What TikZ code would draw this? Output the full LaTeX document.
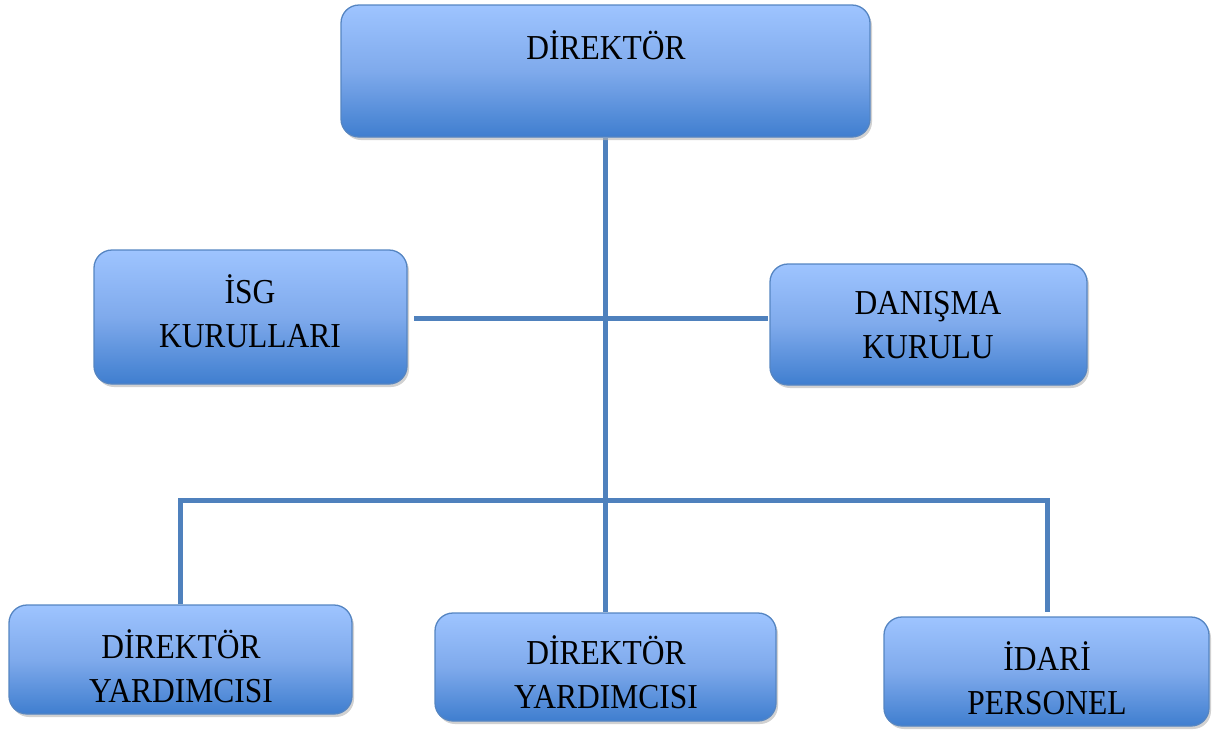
\documentclass[tikz,border=0pt]{standalone}
\usepackage{fontspec}
\setmainfont{Liberation Serif}[FakeStretch=0.9]
\usetikzlibrary{shadows,backgrounds}
\definecolor{boxtop}{HTML}{9EC4FF}
\definecolor{boxmid}{HTML}{7FAAEC}
\definecolor{boxbot}{HTML}{3F7ECF}
\definecolor{boxline}{HTML}{5585C2}
\definecolor{connc}{HTML}{4F81BD}
\tikzset{
  box/.style={draw=boxline, line width=1.3pt, rounded corners=18pt, top color=boxtop, bottom color=boxbot, middle color=boxmid,
    drop shadow={shadow xshift=2pt, shadow yshift=-3pt, fill=black!30, opacity=0.6}, inner sep=0pt},
  lbl/.style={font=\fontsize{35}{44}\selectfont, align=center, inner sep=0pt},
  conn/.style={draw=connc, line width=5pt}
}
\begin{document}
\begin{tikzpicture}[x=1pt,y=-1pt]
\useasboundingbox (0,0) rectangle (1221,729);
\node[box, minimum width=529pt, minimum height=132pt] (dir) at (605.5,71) {};
\node[box, minimum width=313pt, minimum height=134pt] (isg) at (250.5,317) {};
\node[box, minimum width=317pt, minimum height=121pt] (dan) at (928.5,324.5) {};
\node[box, minimum width=343pt, minimum height=109pt] (dya) at (180.5,659.5) {};
\node[box, minimum width=341pt, minimum height=108pt] (dyb) at (605.5,667) {};
\node[box, minimum width=325pt, minimum height=109pt] (idp) at (1046.5,671.5) {};
\node[lbl] (dirt) at (606,45) {DİREKTÖR};
\node[lbl] (isgt) at (250,311) {İSG\\KURULLARI};
\node[lbl] (dant) at (928,325) {DANIŞMA\\KURULU};
\node[lbl] (dyat) at (181,666) {DİREKTÖR\\YARDIMCISI};
\node[lbl] (dybt) at (606,672) {DİREKTÖR\\YARDIMCISI};
\node[lbl] (idpt) at (1047,678) {İDARİ\\PERSONEL};
\coordinate (hl) at (414,318);
\coordinate (hr) at (768,318);
\coordinate (bl) at (180,500);
\coordinate (br) at (1047,500);
\coordinate (bre) at (1047,612);
\begin{scope}[on background layer]
\draw[conn] (dir.south) -- (dyb.north);
\draw[conn] (hl) -- (hr);
\draw[conn] (dya.north -| bl) -- (bl) -- (br) -- (bre);
\end{scope}
\end{tikzpicture}
\end{document}
